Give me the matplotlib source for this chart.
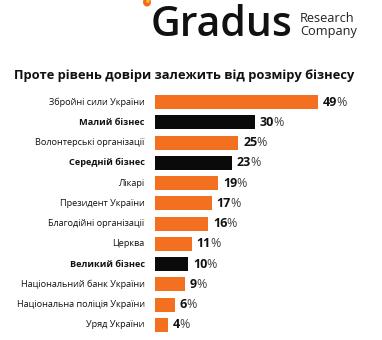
import matplotlib
matplotlib.use("Agg")
import matplotlib.pyplot as plt
from matplotlib.patches import Ellipse

plt.rcParams['font.family'] = ['Open Sans', 'DejaVu Sans']

categories = [
    "Збройні сили України",
    "Малий бізнес",
    "Волонтерські організації",
    "Середній бізнес",
    "Лікарі",
    "Президент України",
    "Благодійні організації",
    "Церква",
    "Великий бізнес",
    "Національний банк України",
    "Національна поліція України",
    "Уряд України",
]
values = [49, 30, 25, 23, 19, 17, 16, 11, 10, 9, 6, 4]
is_business = [False, True, False, True, False, False, False, False, True, False, False, False]

ORANGE = "#F37021"
BLACK = "#0a0a0a"

W, H = 382, 340
fig = plt.figure(figsize=(W / 100, H / 100), dpi=100)
fig.patch.set_facecolor("white")

# Bar area placed in pixel terms
x0_px, x1_px = 155, 382
top_px, bot_px = 91.9, 335.1
ax = fig.add_axes([x0_px / W, 1 - bot_px / H, (x1_px - x0_px) / W, (bot_px - top_px) / H])
px_per_unit = 3.33
ax.set_xlim(0, (x1_px - x0_px) / px_per_unit)
ax.set_ylim(len(categories) - 0.5, -0.5)
ax.axis("off")

ypos = list(range(len(categories)))
colors = [BLACK if b else ORANGE for b in is_business]
ax.barh(ypos, values, height=0.69, color=colors, edgecolor="none")

for y, v, name, b in zip(ypos, values, categories, is_business):
    ax.annotate(name, xy=(0, y), xytext=(-7.5, 0), textcoords="offset points",
                ha="right", va="center", fontsize=6.6,
                fontweight="bold" if b else "normal", color="#111111")
    num = ax.annotate(str(v), xy=(v, y), xytext=(3.5, 0), textcoords="offset points",
                      ha="left", va="center", fontsize=9, fontweight="bold", color="#111111")
    ax.annotate("%", xy=(1, 0.5), xycoords=num, xytext=(-0.5, 0), textcoords="offset points",
                ha="left", va="center", fontsize=9, color="#444444")

# Header: brand mark and title
fig.text(151 / W, 1 - 24.5 / H, "Gradus", fontsize=29.5, color="#111111",
         ha="left", va="center", fontweight="semibold")
fig.text(300 / W, 1 - 19 / H, "Research", fontsize=9.2, color="#222222", ha="left", va="center")
fig.text(300 / W, 1 - 31 / H, "Company", fontsize=9.2, color="#222222", ha="left", va="center")
fig.patches.append(Ellipse((147 / W, 1 - 2 / H), 8 / W, 9 / H, transform=fig.transFigure,
                           facecolor="#F26A1B", edgecolor="none"))
fig.patches.append(Ellipse((148 / W, 1 - 1 / H), 3.5 / W, 4 / H, transform=fig.transFigure,
                           facecolor="#FDBA2C", edgecolor="none"))

fig.text(184 / W, 1 - 75 / H, "Проте рівень довіри залежить від розміру бізнесу",
         fontsize=9.25, fontweight="bold", color="#111111", ha="center", va="center")

fig.savefig("out.png", dpi=100, facecolor="white")
